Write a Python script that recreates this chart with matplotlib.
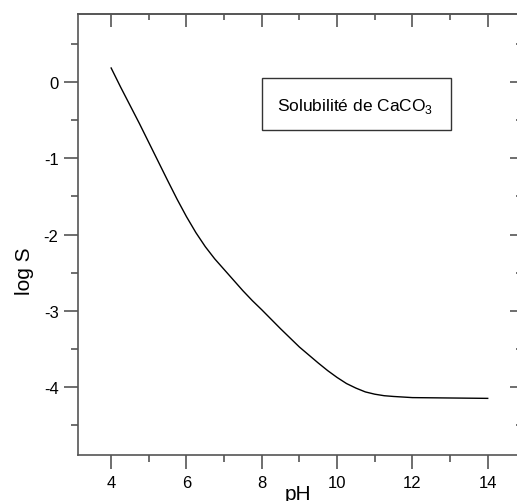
import matplotlib
matplotlib.use("Agg")
import matplotlib.pyplot as plt
from matplotlib.ticker import MultipleLocator
from matplotlib.patches import Rectangle

plt.rcParams['font.family'] = ['Liberation Sans', 'DejaVu Sans']
plt.rcParams['axes.unicode_minus'] = False
plt.rcParams['mathtext.fontset'] = 'custom'
plt.rcParams['mathtext.rm'] = 'Liberation Sans'

# Donnees
ph = [4.0, 4.25, 4.5, 4.75, 5.0, 5.25, 5.5, 5.75, 6.0, 6.25, 6.5, 6.75,
      7.0, 7.25, 7.5, 7.75, 8.0, 8.5, 9.0, 9.5, 9.75, 10.0, 10.25, 10.5,
      10.75, 11.0, 11.25, 11.5, 12.0, 13.0, 14.0]
log_s = [0.19, -0.06, -0.30, -0.54, -0.79, -1.04, -1.29, -1.535, -1.765, -1.975,
         -2.16, -2.32, -2.46, -2.60, -2.74, -2.87, -2.99, -3.24, -3.48, -3.69,
         -3.79, -3.88, -3.96, -4.02, -4.07, -4.10, -4.12, -4.13, -4.145, -4.15, -4.155]

spine_col = '#555555'

fig = plt.figure(figsize=(5.17, 5.02), dpi=100)
ax = fig.add_axes([0.1509, 0.0916, 0.858, 0.8785])

ax.plot(ph, log_s, color='black', lw=1.0)

ax.set_xlim(3.12, 14.9)
ax.set_ylim(-4.9, 0.9)

ax.xaxis.set_major_locator(MultipleLocator(2))
ax.xaxis.set_minor_locator(MultipleLocator(1))
ax.yaxis.set_major_locator(MultipleLocator(1))
ax.yaxis.set_minor_locator(MultipleLocator(0.5))

for s in ax.spines.values():
    s.set_color(spine_col)
    s.set_linewidth(1.2)

ax.tick_params(which='major', direction='out', length=10, width=1.2, color=spine_col, labelsize=12)
ax.tick_params(which='minor', direction='out', length=5, width=1.2, color=spine_col)
ax.tick_params(axis='x', which='major', pad=4.5)
ax.tick_params(axis='y', which='major', pad=4)

# graduations interieures en haut et a droite
top = ax.secondary_xaxis('top')
top.xaxis.set_major_locator(MultipleLocator(2))
top.xaxis.set_minor_locator(MultipleLocator(1))
top.tick_params(which='major', direction='in', length=9, width=1.2, color=spine_col, labeltop=False)
top.tick_params(which='minor', direction='in', length=4.5, width=1.2, color=spine_col)
top.spines['top'].set_color(spine_col)
top.spines['top'].set_linewidth(1.2)

right = ax.secondary_yaxis('right')
right.yaxis.set_major_locator(MultipleLocator(1))
right.yaxis.set_minor_locator(MultipleLocator(0.5))
right.tick_params(which='major', direction='in', length=9, width=1.2, color=spine_col, labelright=False)
right.tick_params(which='minor', direction='in', length=4.5, width=1.2, color=spine_col)
right.spines['right'].set_color(spine_col)
right.spines['right'].set_linewidth(1.2)

# cadre de legende
ax.add_patch(Rectangle((0.414, 0.737), 0.426, 0.117, transform=ax.transAxes,
                       fill=False, edgecolor='#333333', lw=1.0))
ax.text(0.625, 0.792, r'Solubilité de CaCO$_\mathregular{3}$', transform=ax.transAxes,
        ha='center', va='center', fontsize=12.5)

fig.text(298 / 517, 0.004, 'pH', ha='center', va='baseline', fontsize=15)
fig.text(25 / 517, 1 - 271 / 502, 'log S', rotation=90, ha='center', va='center', fontsize=15)

fig.savefig('out.png', dpi=100)
